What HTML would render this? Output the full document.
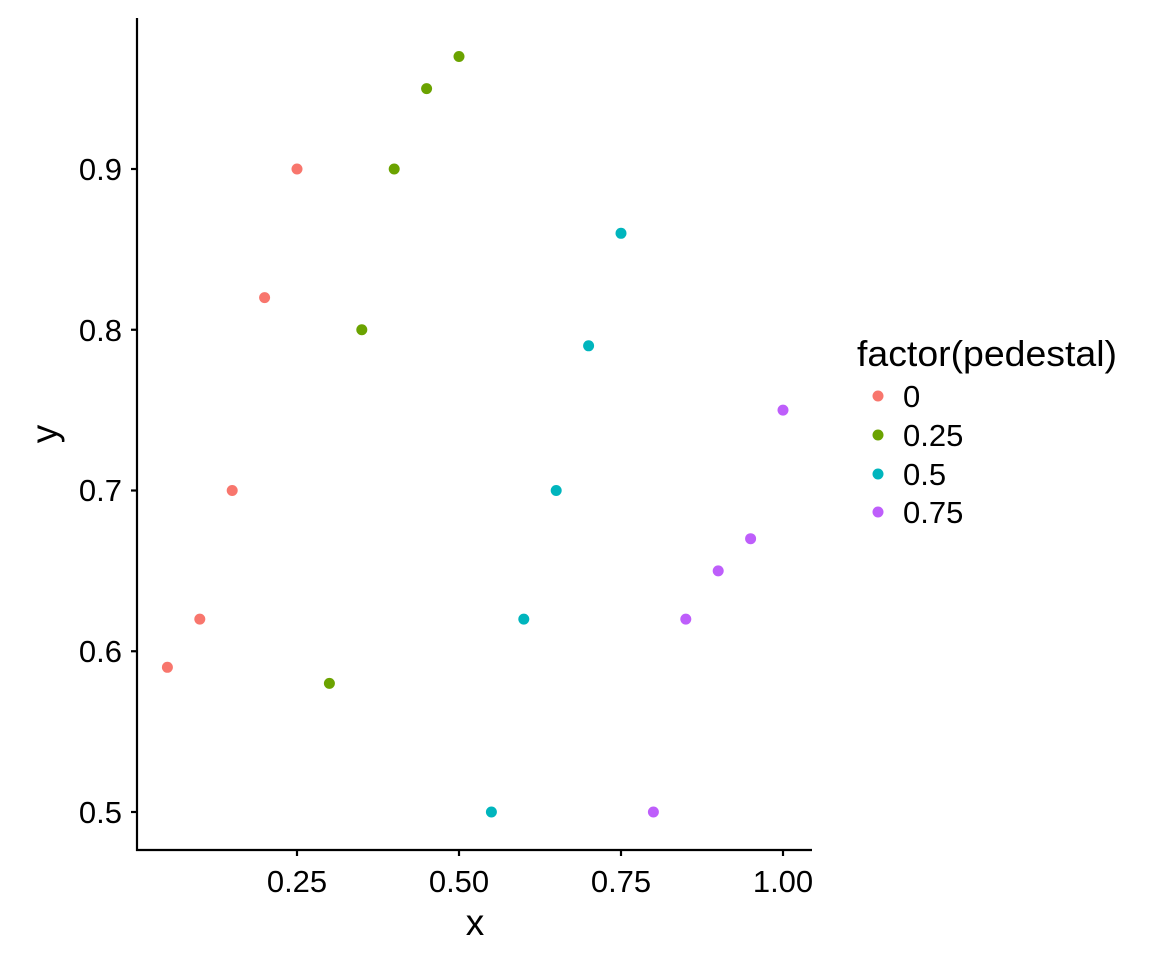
<!DOCTYPE html>
<html><head><style>body{margin:0;background:#fff}</style></head><body>
<svg width="1152" height="960" xmlns="http://www.w3.org/2000/svg" font-family="Liberation Sans, Arial, sans-serif">
<rect width="1152" height="960" fill="#fff"/>
<g stroke="#000" stroke-width="2.2" fill="none">
<line x1="137" y1="18" x2="137" y2="851"/>
<line x1="136" y1="850" x2="812" y2="850"/>
<line x1="131" y1="169" x2="137" y2="169"/>
<line x1="131" y1="329.75" x2="137" y2="329.75"/>
<line x1="131" y1="490.5" x2="137" y2="490.5"/>
<line x1="131" y1="651.25" x2="137" y2="651.25"/>
<line x1="131" y1="812" x2="137" y2="812"/>
<line x1="297" y1="850" x2="297" y2="856"/>
<line x1="459" y1="850" x2="459" y2="856"/>
<line x1="621" y1="850" x2="621" y2="856"/>
<line x1="783" y1="850" x2="783" y2="856"/>
</g>
<g font-size="31" fill="#000" text-anchor="end">
<text x="122" y="180">0.9</text>
<text x="122" y="341">0.8</text>
<text x="122" y="501">0.7</text>
<text x="122" y="662">0.6</text>
<text x="122" y="823">0.5</text>
</g>
<g font-size="31" fill="#000" text-anchor="middle">
<text x="297" y="892">0.25</text>
<text x="459" y="892">0.50</text>
<text x="621" y="892">0.75</text>
<text x="783" y="892">1.00</text>
<text x="475" y="935" font-size="37">x</text>
<text transform="translate(57,434) rotate(-90)" font-size="37">y</text>
</g>
<g fill="#F8766D">
<circle cx="167.4" cy="667.3" r="5.5"/><circle cx="199.8" cy="619.1" r="5.5"/><circle cx="232.2" cy="490.5" r="5.5"/><circle cx="264.6" cy="297.6" r="5.5"/><circle cx="297" cy="169" r="5.5"/>
</g>
<g fill="#6BA300">
<circle cx="329.4" cy="683.4" r="5.5"/><circle cx="361.8" cy="329.75" r="5.5"/><circle cx="394.2" cy="169" r="5.5"/><circle cx="426.6" cy="88.6" r="5.5"/><circle cx="459" cy="56.5" r="5.5"/>
</g>
<g fill="#00B5BD">
<circle cx="491.4" cy="812" r="5.5"/><circle cx="523.8" cy="619.1" r="5.5"/><circle cx="556.2" cy="490.5" r="5.5"/><circle cx="588.6" cy="345.8" r="5.5"/><circle cx="621" cy="233.3" r="5.5"/>
</g>
<g fill="#BE5EFB">
<circle cx="653.4" cy="812" r="5.5"/><circle cx="685.8" cy="619.1" r="5.5"/><circle cx="718.2" cy="570.9" r="5.5"/><circle cx="750.6" cy="538.7" r="5.5"/><circle cx="783" cy="410.1" r="5.5"/>
</g>
<text x="857" y="366" font-size="36" textLength="260" lengthAdjust="spacingAndGlyphs">factor(pedestal)</text>
<circle cx="878" cy="396" r="5.5" fill="#F8766D"/>
<circle cx="878" cy="435" r="5.5" fill="#6BA300"/>
<circle cx="878" cy="474" r="5.5" fill="#00B5BD"/>
<circle cx="878" cy="512" r="5.5" fill="#BE5EFB"/>
<g font-size="31">
<text x="903" y="407">0</text>
<text x="903" y="446">0.25</text>
<text x="903" y="485">0.5</text>
<text x="903" y="523">0.75</text>
</g>
</svg>
</body></html>
